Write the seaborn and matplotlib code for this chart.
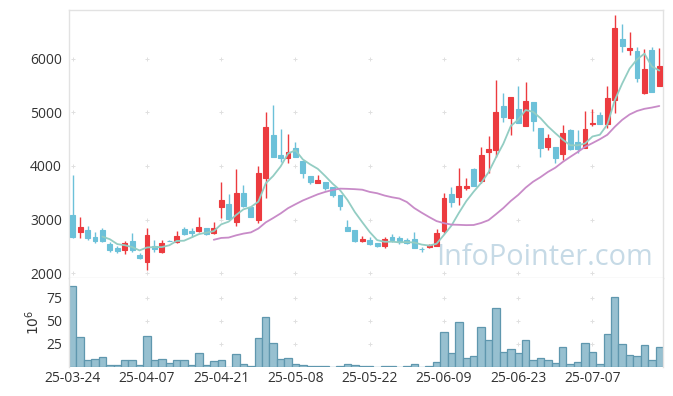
import numpy as np
import pandas as pd
import matplotlib
matplotlib.use("Agg")
import matplotlib.pyplot as plt
import seaborn as sns

# trading days (KRX holidays removed)
dates = pd.bdate_range("2025-03-24", "2025-07-18")
dates = dates.drop(pd.to_datetime(["2025-05-01", "2025-05-05", "2025-05-06",
                                   "2025-06-03", "2025-06-06"]))

opens = [3084, 2772, 2804, 2673, 2804, 2542, 2473, 2430, 2598, 2336,
         2211, 2511, 2398, 2605, 2585, 2822, 2791, 2785, 2835, 2742,
         3239, 3290, 2950, 3490, 3228, 2991, 3781, 4579, 4205, 4155,
         4330, 4099, 3813, 3676, 3695, 3602, 3458, 2866, 2804, 2604,
         2617, 2567, 2505, 2679, 2648, 2617, 2635, 2445, 2480, 2505,
         2785, 3471, 3415, 3583, 3944, 3726, 4267, 4299, 5127, 4903,
         5065, 4753, 5190, 4704, 4349, 4349, 4218, 4673, 4448, 4342,
         4779, 4953, 4785, 5233, 6373, 6168, 6149, 5359, 6168, 5500]
highs = [3832, 3052, 2878, 2772, 2835, 2579, 2505, 2592, 2742, 2368,
         2835, 2617, 2617, 2620, 2785, 2866, 2835, 3041, 2835, 2948,
         3695, 3471, 3938, 3645, 3228, 4000, 5003, 5140, 4686, 4592,
         4454, 4099, 3813, 3832, 3695, 3602, 3458, 2990, 2804, 2685,
         2680, 2567, 2670, 2727, 2700, 2650, 2760, 2480, 2535, 2817,
         3490, 3602, 3957, 3780, 3960, 4349, 4561, 5607, 5360, 5283,
         5500, 5576, 5190, 4704, 4600, 4349, 4765, 4700, 4673, 5034,
         5072, 5000, 5495, 6822, 6654, 6499, 6230, 6187, 6230, 6206]
lows = [2660, 2648, 2617, 2555, 2579, 2392, 2368, 2355, 2398, 2267,
        2056, 2398, 2380, 2590, 2555, 2710, 2679, 2772, 2705, 2729,
        3022, 3004, 2884, 3239, 3040, 2929, 3396, 4174, 4080, 4050,
        4174, 3770, 3658, 3676, 3551, 3420, 3177, 2791, 2574, 2585,
        2520, 2480, 2468, 2585, 2550, 2540, 2461, 2400, 2470, 2505,
        2742, 3239, 3271, 3550, 3632, 3676, 3863, 4174, 4829, 4586,
        4798, 4753, 4660, 4174, 4300, 4062, 4120, 4300, 4243, 4342,
        4753, 4779, 4704, 4985, 6125, 6075, 5576, 5340, 5389, 5500]
closes = [2678, 2865, 2660, 2598, 2604, 2430, 2411, 2555, 2430, 2286,
          2705, 2449, 2555, 2595, 2692, 2729, 2754, 2866, 2729, 2835,
          3364, 3004, 3490, 3258, 3052, 3863, 4723, 4174, 4143, 4256,
          4174, 3863, 3707, 3738, 3583, 3458, 3258, 2791, 2604, 2635,
          2542, 2505, 2630, 2617, 2574, 2567, 2461, 2440, 2523, 2742,
          3396, 3321, 3626, 3626, 3632, 4205, 4317, 5009, 4921, 5283,
          4798, 5215, 4847, 4330, 4517, 4155, 4611, 4324, 4324, 4686,
          4810, 4779, 5276, 6585, 6248, 6210, 5639, 5813, 5389, 5869]
# volume in millions
volumes = [87.7, 32.1, 7.6, 8.7, 10.5, 1.8, 1.8, 7.6, 7.6, 1.8,
           33.2, 7.6, 8.7, 4.3, 7.6, 7.6, 1.8, 15.2, 1.8, 6.5,
           7.6, 0.5, 14.0, 2.9, 0.7, 31.4, 53.8, 26.3, 8.3, 9.4,
           2.9, 1.8, 0.7, 0.7, 0.7, 0.3, 0.7, 2.9, 1.8, 0.7,
           0.7, 0.2, 0.7, 0.7, 0.2, 0.7, 2.9, 0.2, 0.7, 5.1,
           37.5, 14.8, 48.4, 9.4, 11.5, 42.9, 28.9, 63.5, 15.9, 19.1,
           14.8, 28.9, 7.2, 9.4, 7.2, 4.0, 21.3, 2.9, 5.1, 25.6,
           15.9, 2.9, 35.4, 75.4, 24.5, 12.6, 11.5, 23.4, 7.2, 21.3]

price_ticks = [2000, 3000, 4000, 5000, 6000]
vol_ticks = [25, 50, 75]

df = pd.DataFrame({"date": dates, "open": opens, "high": highs,
                   "low": lows, "close": closes, "vol": volumes})
df["idx"] = np.arange(len(df))
df["ma5"] = df["close"].rolling(5).mean()
df["ma20"] = df["close"].rolling(20).mean()

RED = "#ec3b3f"
BLUE = "#6cc1d9"

sns.set_style("white")
plt.rcParams["font.family"] = ["Open Sans", "DejaVu Sans"]

fig = plt.figure(figsize=(6.73, 3.96), dpi=100)
ax = fig.add_axes([69 / 673, 118 / 396, 594 / 673, 268 / 396])
ax2 = fig.add_axes([69 / 673, 29 / 396, 594 / 673, 89 / 396], sharex=ax)

xt = df["idx"][::10].tolist()

# faint "+" grid marks
gx, gy = np.meshgrid(xt, price_ticks)
ax.scatter(gx.ravel(), gy.ravel(), marker="+", s=8, color="#e0e0e0", lw=0.7, zorder=0)
gx, gy = np.meshgrid(xt, vol_ticks)
ax2.scatter(gx.ravel(), gy.ravel(), marker="+", s=8, color="#e0e0e0", lw=0.7, zorder=0)

# candles
up = df["close"] >= df["open"]
cols = np.where(up, RED, BLUE)
ax.vlines(df["idx"], df["low"], df["high"], colors=cols, lw=1, zorder=2)
ax.bar(df["idx"], (df["close"] - df["open"]).abs(),
       bottom=df[["open", "close"]].min(axis=1), width=0.66,
       color=cols, edgecolor=cols, linewidth=0.8, zorder=3)

# moving averages
sns.lineplot(x=df["idx"], y=df["ma5"], ax=ax, color="#93cdc3", lw=1.3, zorder=4)
sns.lineplot(x=df["idx"], y=df["ma20"], ax=ax, color="#c88bc8", lw=1.3, zorder=4)

ax.text(0.618, 0.048, "InfoPointer.com", transform=ax.transAxes,
        fontsize=20.8, color="#c6dae6", va="baseline", ha="left", zorder=1)

# volume
sns.barplot(x=df["idx"], y=df["vol"], ax=ax2, native_scale=True, width=1,
            color="#97c0d0", edgecolor="#5f97ae", linewidth=0.9,
            saturation=1, errorbar=None)

ax.set_xlim(-0.5, len(df) - 0.5)
ax.set_ylim(1907, 6915)
ax2.set_ylim(0, 96.3)

ax.set_yticks(price_ticks)
ax2.set_yticks(vol_ticks)
ax2.set_xticks(xt)
ax2.set_xticklabels(df["date"][::10].dt.strftime("%y-%m-%d"))
plt.setp(ax.get_xticklabels(), visible=False)

for a in (ax, ax2):
    a.set_xlabel("")
    a.tick_params(length=0, labelsize=10, colors="#333333", pad=5)
    for s in a.spines.values():
        s.set_color("#e2e2e2")
        s.set_linewidth(1)
ax.set_ylabel("")
ax2.spines["bottom"].set_visible(False)
ax2.spines["top"].set_visible(False)
ax2.set_ylabel(r"$10^6$", fontsize=10, color="#333333", labelpad=2)
ax2.tick_params(axis="x", pad=3)

fig.savefig("out.png", dpi=100)
